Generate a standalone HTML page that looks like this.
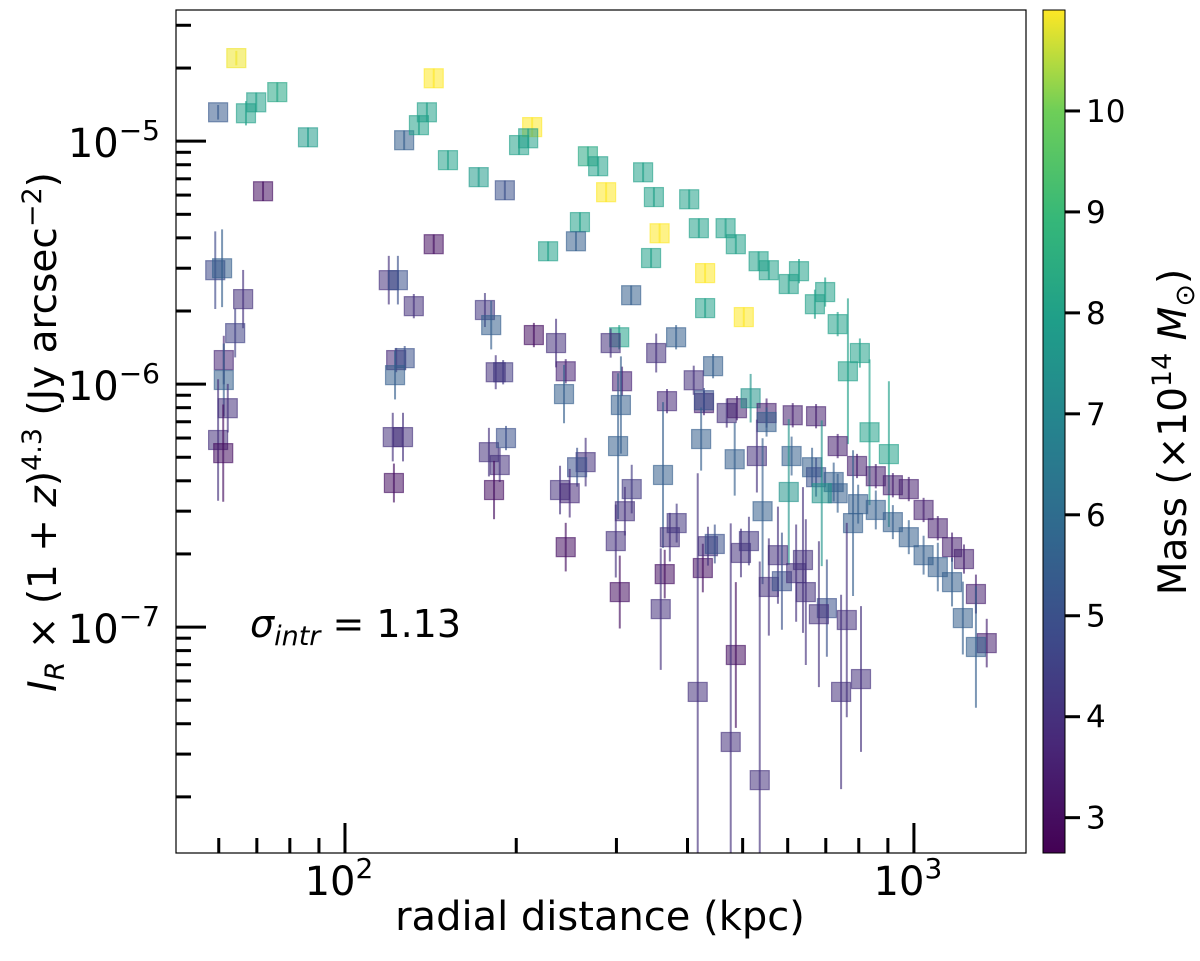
<!DOCTYPE html>
<html><head><meta charset="utf-8"><title>Radial intensity profiles</title>
<style>
html,body{margin:0;padding:0;background:#fff;}
svg{display:block;font-family:"DejaVu Sans","Liberation Sans",sans-serif;}
</style></head>
<body>
<svg id="chart" width="1200" height="961" viewBox="0 0 1200 961" xmlns="http://www.w3.org/2000/svg">
  <defs>
    <linearGradient id="viridis" x1="0" y1="1" x2="0" y2="0">
      <stop offset="0" stop-color="#440154"/><stop offset="0.13" stop-color="#482878"/>
      <stop offset="0.25" stop-color="#3e4989"/><stop offset="0.38" stop-color="#31688e"/>
      <stop offset="0.5" stop-color="#26828e"/><stop offset="0.63" stop-color="#1f9e89"/>
      <stop offset="0.75" stop-color="#35b779"/><stop offset="0.88" stop-color="#6ece58"/>
      <stop offset="1" stop-color="#fde725"/>
    </linearGradient>
  </defs>
  <g id="marks"></g>
  <g id="axes"></g>
  <rect x="176" y="10" width="850" height="843" fill="none" stroke="#000" stroke-width="1.2"/>
  <text x="250" y="637" font-size="38" fill="#000"><tspan font-style="italic">σ</tspan><tspan font-style="italic" font-size="27" dy="8">intr</tspan><tspan dy="-8"> = 1.13</tspan></text>
  <text x="600" y="930" font-size="40" text-anchor="middle" fill="#000">radial distance (kpc)</text>
  <text transform="translate(56,432) rotate(-90)" font-size="39" text-anchor="middle" fill="#000"><tspan font-style="italic">I</tspan><tspan font-style="italic" font-size="27" dy="8">R</tspan><tspan dy="-8"> × (1 + </tspan><tspan font-style="italic">z</tspan><tspan>)</tspan><tspan font-size="27" dy="-15">4.3</tspan><tspan dy="15"> (Jy arcsec</tspan><tspan font-size="27" dy="-15">−2</tspan><tspan dy="15">)</tspan></text>
  <rect x="1043" y="10" width="22" height="843" fill="url(#viridis)" stroke="#000" stroke-width="1"/>
  <g id="cbticks"></g>
  <text transform="translate(1186,432) rotate(-90)" font-size="39" text-anchor="middle" fill="#000">Mass (×10<tspan font-size="27" dy="-15">14</tspan><tspan dy="15"> </tspan><tspan font-style="italic">M</tspan><tspan font-size="27" dy="8">⊙</tspan><tspan dy="-8">)</tspan></text>
</svg>
<script>
// log10 radius (kpc)
const logR = [1.809,1.777,1.826,1.844,1.881,1.935,1.856,1.772,1.784,1.821,1.807,1.787,1.787,1.794,1.777,1.786,
2.077,2.093,2.121,2.090,2.105,2.088,2.084,2.102,2.086,2.104,2.130,2.144,2.156,2.181,2.156,2.235,2.281,2.246,2.257,2.265,2.278,2.253,2.272,2.283,2.262,
2.329,2.306,2.322,2.332,2.427,2.445,2.459,2.524,2.543,2.605,2.413,2.406,2.357,2.553,2.538,2.622,2.669,2.687,2.633,2.633,2.727,2.745,2.780,2.798,2.844,2.826,2.701,2.503,2.866,2.905,2.884,
2.371,2.482,2.467,2.582,2.547,2.647,2.613,2.388,2.385,2.487,2.485,2.566,2.631,2.631,2.671,2.689,2.713,2.741,2.741,2.787,2.828,2.922,2.956,
2.626,2.480,2.685,2.724,2.785,2.866,2.900,2.933,2.963,2.991,2.821,2.828,2.859,2.866,2.780,2.838,2.902,2.933,2.559,2.504,2.423,2.408,2.378,2.395,2.734,
3.017,3.042,3.067,3.088,3.109,3.128,2.893,2.963,2.991,3.017,3.042,3.067,3.086,3.109,
2.492,2.476,2.483,2.388,2.571,2.583,2.562,2.555,2.629,2.638,2.650,2.696,2.710,2.620,2.687,2.678,2.729,2.745,2.761,2.768,2.805,2.793,2.810,2.847,2.833,2.882,2.872,2.907];
// log10 intensity (Jy arcsec^-2)
const logI = [-4.658,-4.881,-4.885,-4.840,-4.798,-4.984,-5.206,-5.531,-5.523,-5.650,-5.790,-5.901,-5.983,-6.099,-6.230,-6.284,
-5.572,-5.572,-5.679,-5.901,-5.893,-5.963,-6.218,-6.218,-6.407,-4.996,-4.934,-4.881,-4.741,-5.078,-5.424,-5.148,-5.202,-5.695,-5.757,-5.951,-5.951,-6.280,-6.333,-6.222,-6.436,
-4.942,-5.016,-4.988,-5.798,-5.062,-5.103,-5.210,-5.128,-5.230,-5.239,-5.333,-5.412,-5.453,-5.379,-5.481,-5.358,-5.358,-5.424,-5.543,-5.687,-5.494,-5.531,-5.588,-5.535,-5.621,-5.671,-5.724,-5.634,-5.753,-5.872,-5.947,
-5.831,-5.807,-5.831,-5.807,-5.872,-5.926,-5.984,-5.947,-6.041,-5.988,-6.086,-6.070,-6.078,-6.066,-6.119,-6.099,-6.058,-6.119,-6.156,-6.128,-6.132,-6.198,-6.288,
-6.226,-6.255,-6.309,-6.296,-6.296,-6.255,-6.337,-6.379,-6.416,-6.432,-6.342,-6.383,-6.403,-6.449,-6.444,-6.449,-6.494,-6.518,-6.374,-6.432,-6.321,-6.342,-6.436,-6.449,-6.523,
-6.518,-6.593,-6.671,-6.720,-6.864,-7.066,-6.572,-6.568,-6.630,-6.704,-6.753,-6.815,-6.963,-7.082,
-6.523,-6.646,-6.856,-6.671,-6.630,-6.572,-6.782,-6.926,-6.757,-6.667,-6.658,-6.695,-6.646,-7.267,-7.115,-7.473,-7.630,-6.835,-6.704,-6.811,-6.724,-6.778,-6.856,-6.922,-6.947,-6.971,-7.267,-7.214];
// cluster mass (1e14 Msun)
const mass = [10.9,5.3,8,8,8.2,7.8,3,4.7,5.5,4,4.5,3.7,5.5,4,4,3,
4,5,4,3.8,5,5.5,4,4,3,5.5,8,8,11,8,3,7.8,5,4.2,5.5,4,4.3,4,4,5,3,
11,8,8,3,8.3,8,11,8,8,8,8,5.5,8,11,8,8,8,8,11,8,8,8,8,8,8,8,11,5.5,8,8,8,
4,8,4,5.5,4,5.5,4,3.6,5.5,3.6,5.5,3.8,3.5,5,4,3.5,7.5,3.5,5.5,3.5,3.5,8,8,
5.5,5.5,5.5,4,5.5,3.5,3.5,3.5,3.5,3.5,5.5,5,5.5,5.5,7.5,7.5,5.5,5.5,5.5,4.3,4,5,4,3.8,5.5,
3.5,3.5,3.5,3.5,3.5,3.5,5.5,5.5,5.5,5.5,5.5,5.5,5.5,5.5,
4,4,3,3,4,4.2,3,4,3,4,5,4,4.2,4,3,4,4,4,4,5,4,4,4,5,4,4,4,4];
// error in dex
const errDex = [0.03,0.03,0.05,0.04,0.04,0.04,0.04,0.16,0.16,0.12,0.1,0.1,0.15,0.1,0.25,0.2,
0.1,0.1,0.05,0.05,0.05,0.1,0.1,0.1,0.08,0.04,0.04,0.04,0.04,0.04,0.04,0.04,0.04,0.07,0.1,0.07,0.05,0.1,0.07,0.05,0.12,
0.04,0.04,0.04,0.05,0.04,0.04,0.04,0.04,0.04,0.04,0.04,0.04,0.04,0.04,0.04,0.04,0.04,0.04,0.04,0.04,0.04,0.04,0.04,0.05,0.06,0.06,0.04,0.04,0.05,0.06,0.3,
0.1,0.05,0.06,0.05,0.08,0.05,0.06,0.05,0.12,0.06,0.2,0.05,0.05,0.05,0.06,0.05,0.1,0.06,0.06,0.05,0.05,0.3,0.3,
0.13,0.3,0.15,0.15,0.08,0.05,0.05,0.05,0.05,0.05,0.08,0.08,0.08,0.08,0.3,0.3,0.08,0.08,0.3,0.1,0.1,0.08,0.1,0.1,0.3,
0.05,0.05,0.06,0.06,0.08,0.1,0.3,0.07,0.07,0.08,0.1,0.1,0.15,0.25,
0.1,0.15,0.15,0.1,0.1,0.08,0.1,0.25,0.1,0.08,0.08,0.1,0.1,0.9,0.3,0.9,0.9,0.2,0.2,0.2,0.3,0.2,0.3,0.2,0.3,0.4,0.4,0.3];
const xTickLabels = ["2","3"];
const yTickExps = ["−5","−6","−7"];
const cbTicks = [3,4,5,6,7,8,9,10];

const NS="http://www.w3.org/2000/svg";
const PL=176, PR=1026, PT=10, PB=853;
const xMin=1.703, xMax=3.197, yMin=-7.93, yMax=-4.46;
const cMin=2.65, cMax=11.0;
function xs(lr){return PL+(lr-xMin)/(xMax-xMin)*(PR-PL);}
function ys(li){return PB-(li-yMin)/(yMax-yMin)*(PB-PT);}
function cy(m){return 853-(m-cMin)/(cMax-cMin)*843;}
const stops=[[0,[68,1,84]],[0.13,[72,40,120]],[0.25,[62,73,137]],[0.38,[49,104,142]],[0.5,[38,130,142]],[0.63,[31,158,137]],[0.75,[53,183,121]],[0.88,[110,206,88]],[1,[253,231,37]]];
function viridis(m){
  let t=Math.max(0,Math.min(1,(m-cMin)/(cMax-cMin)));
  for(let i=1;i<stops.length;i++){ if(t<=stops[i][0]){const a=stops[i-1],b=stops[i];const f=(t-a[0])/(b[0]-a[0]);
    const c=a[1].map((v,k)=>Math.round(v+(b[1][k]-v)*f));return `rgb(${c[0]},${c[1]},${c[2]})`;}}
  return "rgb(253,231,37)";
}
function mk(tag,attrs,parent){const e=document.createElementNS(NS,tag);for(const k in attrs)e.setAttribute(k,attrs[k]);parent.appendChild(e);return e;}

const marks=document.getElementById('marks');
for(let i=0;i<logR.length;i++){
  const x=xs(logR[i]), y=ys(logI[i]), col=viridis(mass[i]);
  const y1=Math.max(PT,ys(logI[i]+errDex[i])), y2=Math.min(PB,ys(logI[i]-errDex[i]));
  const eb=mk('line',{x1:x,x2:x,y1:y1,y2:y2,stroke:col,'stroke-width':2,'stroke-opacity':0.65},marks);
  
  
  const s=mk('rect',{x:x-9.5,y:y-9.5,width:19,height:19,fill:col,'fill-opacity':0.55,stroke:col,'stroke-opacity':0.6,'stroke-width':1.2},marks);
  
  
}

const axes=document.getElementById('axes');
for(let d=1;d<=3;d++){for(let k=1;k<=9;k++){
  const lv=d+Math.log10(k); if(lv<xMin||lv>xMax) continue;
  const x=xs(lv), major=(k===1);
  const t=mk('line',{x1:x,x2:x,y1:PB,y2:PB-(major?30:15),stroke:'#000','stroke-width':3},axes);
  
  
  if(major){
    const lab=mk('text',{x:x-6,y:PB+42,'font-size':40,'text-anchor':'middle',fill:'#000'},axes);
    
    
    lab.innerHTML='10<tspan font-size="28" dy="-17">'+xTickLabels[d-2]+'</tspan>';
  }
}}
for(let d=-8;d<=-5;d++){for(let k=1;k<=9;k++){
  const lv=d+Math.log10(k); if(lv<yMin||lv>yMax) continue;
  const y=ys(lv), major=(k===1);
  const t=mk('line',{x1:PL,x2:PL+(major?30:15),y1:y,y2:y,stroke:'#000','stroke-width':3},axes);
  
  
  if(major){
    const lab=mk('text',{x:160,y:y+16,'font-size':40,'text-anchor':'end',fill:'#000'},axes);
    
    
    lab.innerHTML='10<tspan font-size="28" dy="-17">'+yTickExps[-5-d]+'</tspan>';
  }
}}
const cbt=document.getElementById('cbticks');
cbTicks.forEach(v=>{
  const y=cy(v);
  const t=mk('line',{x1:1065,x2:1080,y1:y,y2:y,stroke:'#000','stroke-width':3},cbt);
  
  
  const l=mk('text',{x:1086,y:y+11,'font-size':31,fill:'#000'},cbt);
  
  
  l.textContent=String(v);
});
</script>
</body></html>
